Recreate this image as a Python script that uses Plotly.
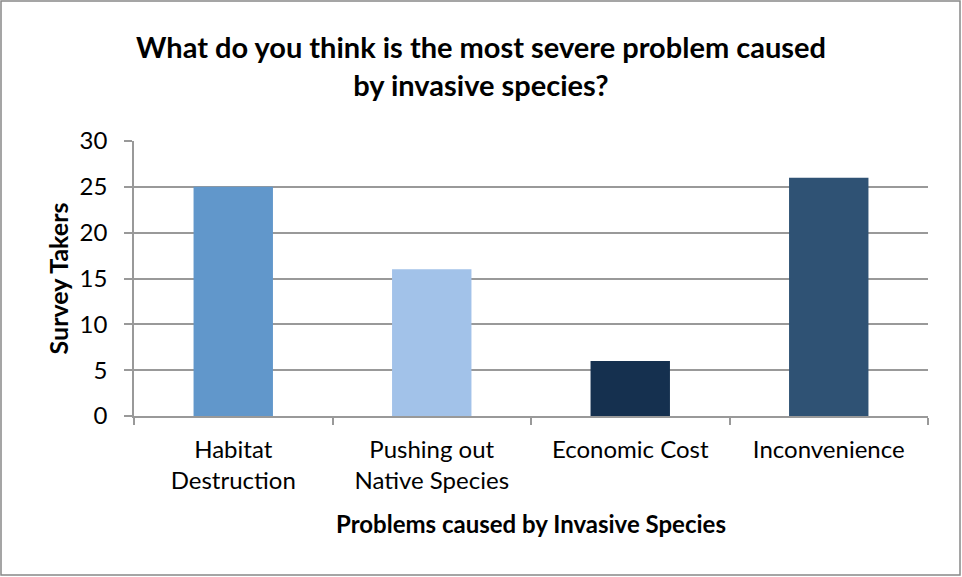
import plotly.graph_objects as go

categories = ["Habitat<br>Destruction", "Pushing out<br>Native Species", "Economic Cost", "Inconvenience"]
values = [25, 16, 6, 26]
colors = ["#6197CB", "#A2C2E9", "#15304F", "#2F5274"]
y_ticks = [0, 5, 10, 15, 20, 25, 30]

W, H = 962, 577
ml, mr, mt, mb = 134, 34, 141, 161
pw, ph = W - ml - mr, H - mt - mb

fig = go.Figure(go.Bar(x=categories, y=values, marker=dict(color=colors, line=dict(width=0)), width=0.4))

font = "Lato, 'Open Sans', sans-serif"
fig.update_layout(
    width=W, height=H,
    margin=dict(l=ml, r=mr, t=mt, b=mb),
    paper_bgcolor="white", plot_bgcolor="white",
    showlegend=False,
    title=dict(text="<b>What do you think is the most severe problem caused<br>by invasive species?</b>",
               x=0.5, xanchor="center", y=1 - 58 / H, yanchor="middle",
               font=dict(family=font, size=29, color="black")),
    font=dict(family=font, color="black"),
)
fig.update_xaxes(
    tickson="boundaries", ticks="outside", ticklen=7, tickcolor="#999999", tickwidth=1.5,
    showline=True, linecolor="#999999", linewidth=1.5,
    tickfont=dict(size=24, color="black"), ticklabelstandoff=11,
    title=dict(text="<b>Problems caused by Invasive Species</b>", font=dict(size=24), standoff=23),
)
fig.update_yaxes(
    range=[0, 30], tickvals=y_ticks, ticks="outside", ticklen=8, tickcolor="#999999", tickwidth=1.5,
    showline=True, linecolor="#999999", linewidth=1.5,
    showgrid=True, gridcolor="#999999", gridwidth=1.5, zeroline=False,
    tickfont=dict(size=24, color="black"), ticklabelstandoff=12,
    title=dict(text="<b>Survey Takers</b>", font=dict(size=25), standoff=4),
)
# outer border
fig.add_shape(type="rect", xref="paper", yref="paper",
              x0=(1 - ml) / pw, x1=(W - 2 - ml) / pw,
              y0=-(H - 2 - (H - mb)) / ph, y1=1 + (mt - 1) / ph,
              line=dict(color="#888888", width=1.5), fillcolor="rgba(0,0,0,0)", layer="below")
fig.write_html("out.html")
